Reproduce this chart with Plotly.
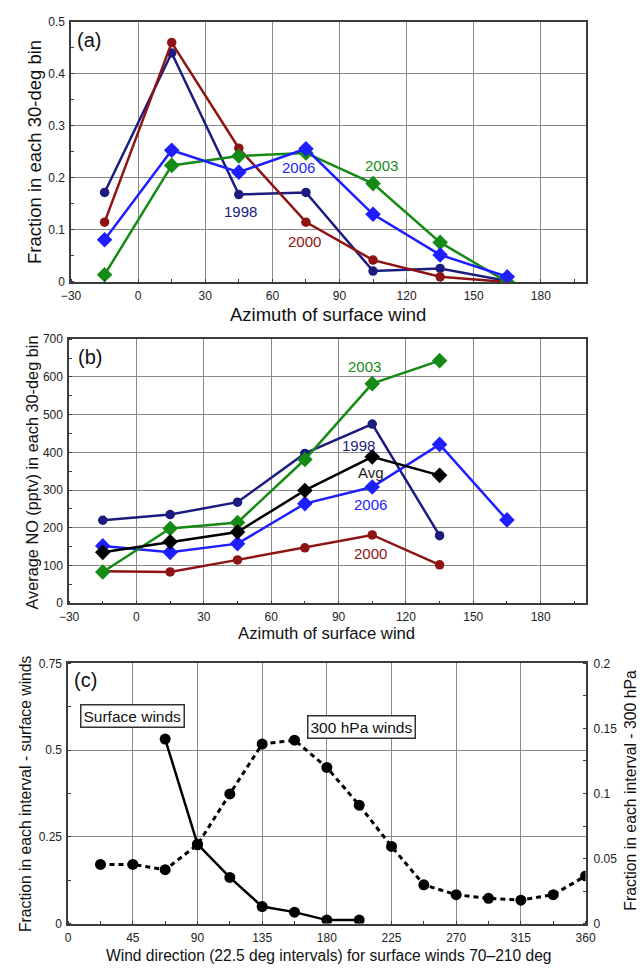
import plotly.graph_objects as go

# ---- (a) fraction of flights in each 30-deg azimuth bin ----
azimuth = [-15, 15, 45, 75, 105, 135, 165]
frac_1998 = [0.172, 0.440, 0.168, 0.172, 0.021, 0.026, 0.002]
frac_2000 = [0.115, 0.460, 0.257, 0.115, 0.042, 0.010, 0.000]
frac_2003 = [0.014, 0.224, 0.242, 0.248, 0.189, 0.076, 0.000]
frac_2006 = [0.081, 0.253, 0.211, 0.256, 0.130, 0.052, 0.010]

# ---- (b) average NO in each 30-deg bin (pptv) ----
azimuth_no = [-15, 15, 45, 75, 105, 135]
no_1998 = [220, 235, 268, 397, 475, 179]
no_2000 = [85, 83, 115, 147, 181, 102]
no_2003 = [83, 198, 214, 381, 582, 643]
no_2006 = [152, 135, 158, 264, 308, 421, 221]   # uses all 7 azimuth bins
no_avg = [135, 163, 189, 299, 388, 339]

# ---- (c) wind direction distributions ----
dir_surface = [67.5, 90, 112.5, 135, 157.5, 180, 202.5]
frac_surface = [0.532, 0.229, 0.133, 0.049, 0.033, 0.010, 0.010]
dir_300 = [22.5, 45, 67.5, 90, 112.5, 135, 157.5, 180, 202.5, 225,
           247.5, 270, 292.5, 315, 337.5, 360]
frac_300 = [0.0455, 0.0455, 0.0414, 0.0606, 0.0997, 0.138, 0.141, 0.120,
            0.091, 0.0593, 0.0298, 0.0222, 0.0194, 0.018, 0.0222, 0.0366]

ticks_az = [-30, 0, 30, 60, 90, 120, 150, 180]
ticks_dir = [0, 45, 90, 135, 180, 225, 270, 315, 360]
ticks_surf = [0, 0.25, 0.5, 0.75]
ticklabels_surf = ["0", "0.25", "0.5", "0.75"]
ticks_300 = [0, 0.05, 0.1, 0.15, 0.2]
ticklabels_300 = ["0", "0.05", "0.1", "0.15", "0.2"]

W, H = 644, 970
FONT = "Liberation Sans, Arial, sans-serif"

NAVY = "#1c1c80"
DRED = "#8e1414"
GREEN = "#158a15"
BLUE = "#1e1eff"
BLACK = "#000000"


def px(x):
    return x / W


def py(y):
    return 1 - y / H


fig = go.Figure()


def line(x, y, color, symbol, size, xa, ya, name, width=2.5, dash="solid"):
    fig.add_trace(go.Scatter(
        x=x, y=y, mode="lines+markers", name=name, xaxis=xa, yaxis=ya,
        line=dict(color=color, width=width, dash=dash),
        marker=dict(color=color, symbol=symbol, size=size),
        showlegend=False))


# (a)
line(azimuth, frac_1998, NAVY, "circle", 9.5, "x", "y", "1998")
line(azimuth, frac_2000, DRED, "circle", 9.5, "x", "y", "2000")
line(azimuth, frac_2003, GREEN, "diamond", 12, "x", "y", "2003")
line(azimuth, frac_2006, BLUE, "diamond", 12, "x", "y", "2006")

# (b)
line(azimuth_no, no_1998, NAVY, "circle", 9.5, "x2", "y2", "1998")
line(azimuth_no, no_2000, DRED, "circle", 9.5, "x2", "y2", "2000")
line(azimuth, no_2006, BLUE, "diamond", 12, "x2", "y2", "2006")
line(azimuth_no, no_2003, GREEN, "diamond", 12, "x2", "y2", "2003")
line(azimuth_no, no_avg, BLACK, "diamond", 12, "x2", "y2", "Avg")

# (c)
line(dir_300, frac_300, BLACK, "circle", 11, "x3", "y4", "300 hPa winds",
     width=3, dash="5px,4px")
line(dir_surface, frac_surface, BLACK, "circle", 11, "x3", "y3",
     "Surface winds", width=2.5)

GRID = "#8a8a8a"
FRAME = "#3c3c3c"
tickfont = dict(family=FONT, size=12, color="#222222")


def xaxis(dom, rng, tickvals, minor_dt):
    return dict(domain=dom, range=rng, tickvals=tickvals, showgrid=True,
                gridcolor=GRID, gridwidth=1.2, showline=True, mirror=True,
                linecolor=FRAME, linewidth=1.5, ticks="", zeroline=False,
                tickfont=tickfont, ticklabelstandoff=2,
                minor=dict(dtick=minor_dt, ticks="inside", ticklen=3,
                           tickcolor=FRAME, showgrid=False))


def yaxis(dom, rng, tickvals, minor_dt, ticktext=None):
    d = dict(domain=dom, range=rng, tickvals=tickvals, showgrid=True,
             gridcolor=GRID, gridwidth=1.2, showline=True, mirror=True,
             linecolor=FRAME, linewidth=1.5, ticks="", zeroline=False,
             tickfont=tickfont, ticklabelstandoff=2,
             minor=dict(dtick=minor_dt, ticks="inside", ticklen=3,
                        tickcolor=FRAME, showgrid=False))
    if ticktext is not None:
        d["ticktext"] = ticktext
    return d


dom_a = [py(279), py(15)]
dom_b = [py(605), py(337)]
dom_c = [py(930), py(666)]

fig.update_layout(
    width=W, height=H,
    margin=dict(l=0, r=0, t=0, b=0),
    paper_bgcolor="white", plot_bgcolor="white",
    font=dict(family=FONT, color="#111111"),
    xaxis=xaxis([px(63), px(594)], [-30, 200], ticks_az, 15),
    yaxis=yaxis(dom_a, [0, 0.5], [0, 0.1, 0.2, 0.3, 0.4, 0.5], 0.05),
    xaxis2=dict(xaxis([px(61), px(594)], [-30, 200], ticks_az, 15),
                anchor="y2"),
    yaxis2=dict(yaxis(dom_b, [0, 700], list(range(0, 701, 100)), 50),
                anchor="x2"),
    xaxis3=dict(xaxis([px(60), px(594)], [0, 360], ticks_dir, 22.5),
                anchor="y3"),
    yaxis3=dict(yaxis(dom_c, [0, 0.75], ticks_surf, 0.125, ticklabels_surf),
                anchor="x3"),
    yaxis4=dict(domain=dom_c, range=[0, 0.2], tickvals=ticks_300,
                ticktext=ticklabels_300, overlaying="y3", anchor="x3",
                side="right", showgrid=False, showline=False, zeroline=False,
                ticks="", tickfont=tickfont, ticklabelstandoff=7,
                minor=dict(dtick=0.025, ticks="inside", ticklen=3,
                           tickcolor=FRAME, showgrid=False)),
)

ann = []


def text(x, y, s, size, color="#111111", angle=0, **kw):
    ann.append(dict(x=px(x), y=py(y), xref="paper", yref="paper", text=s,
                    showarrow=False, textangle=angle,
                    font=dict(family=FONT, size=size, color=color),
                    xanchor="center", yanchor="middle", **kw))


# panel letters
text(82, 33, "(a)", 20)
text(83, 355, "(b)", 20)
text(78, 683, "(c)", 20)

# axis titles
text(328, 312, "Azimuth of surface wind", 18.5)
text(26, 147, "Fraction in each 30-deg bin", 18.5, angle=-90)
text(327, 636, "Azimuth of surface wind", 16.7)
text(23, 472, "Average NO (pptv) in each 30-deg bin", 16.3, angle=-90)
text(329, 962, "Wind direction (22.5 deg intervals) for surface winds 70\u2013210 deg", 15.6)
text(16, 798, "Fraction in each interval - surface winds", 15.7, angle=-90)
text(636, 795, "Fraction in each interval - 300 hPa", 15.8, angle=-90,
     xshift=4)

# series labels (a)
text(238, 207, "1998", 15, NAVY)
text(304, 238, "2000", 15, DRED)
text(298, 163, "2006", 15, BLUE)
text(383, 161, "2003", 15, GREEN)

# series labels (b)
text(366, 365, "2003", 15, GREEN)
text(360, 445, "1998", 15, NAVY)
text(373, 472, "Avg", 15, "#222222")
text(372, 505, "2006", 15, BLUE)
text(372, 555, "2000", 15, DRED)

# boxed labels (c)
text(126.5, 719.5, "Surface winds", 15.5, bordercolor="#333333",
     borderwidth=1.5, borderpad=2, bgcolor="white")
text(363, 731, "300 hPa winds", 15.5, bordercolor="#333333",
     borderwidth=1.5, borderpad=2, bgcolor="white")

fig.update_layout(annotations=ann)
fig.write_html("out.html")
